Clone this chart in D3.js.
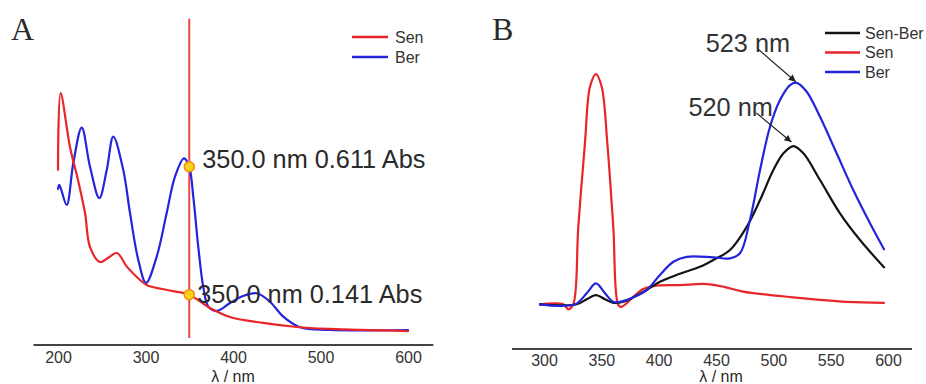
<!DOCTYPE html>
<html lang="en">
<head>
<meta charset="UTF-8">
<title>Sen / Ber spectra</title>
<script src="https://d3js.org/d3.v7.min.js"></script>
<style>
    body { margin: 0; background: #fff; }
    svg text { font-family: "Liberation Sans", Arial, sans-serif; fill: #2a2a2a; }
    .panel-label { font-family: "Liberation Serif", "Times New Roman", serif; font-size: 32px; }
    .axis text { font-size: 16px; fill: #333; }
    .legend text { font-size: 16px; fill: #333; }
    .note { font-size: 25.3px; }
    .curve { fill: none; stroke-width: 2.2; stroke-linejoin: round; stroke-linecap: round; }
</style>
</head>
<body>
<script>
    // ---- Panel A: absorbance (Abs) vs wavelength ----
    const senA_nm  = [200, 203, 213.7, 222.9, 230.9, 236.6, 248, 257, 267.4, 278.9, 293.7, 301.7, 331.4, 350, 373.7, 396.6, 434.3, 473, 510.9, 600];
    const senA_abs = [0.60, 0.882, 0.684, 0.562, 0.441, 0.316, 0.261, 0.276, 0.294, 0.243, 0.195, 0.176, 0.154, 0.141, 0.092, 0.059, 0.037, 0.022, 0.015, 0.007];

    const berA_nm  = [200, 201.5, 209.9, 217.5, 227.1, 236.6, 247.2, 255.7, 263.2, 274.6, 282.3, 291.8, 300.6, 312.8, 324.2, 333.7, 344, 350, 354.6, 360.3, 366, 371.8, 381.4, 396.6, 411.4, 427.1, 442.3, 457.5, 476.6, 510.9, 600];
    const berA_abs = [0.53, 0.545, 0.471, 0.625, 0.755, 0.611, 0.496, 0.599, 0.722, 0.599, 0.441, 0.268, 0.184, 0.281, 0.441, 0.575, 0.642, 0.611, 0.501, 0.317, 0.170, 0.097, 0.081, 0.110, 0.136, 0.146, 0.115, 0.060, 0.021, 0.011, 0.011];

    const cursorA_nm  = 350.0;
    const cursorA_abs = [0.611, 0.141];
    const ticksA = [200, 300, 400, 500, 600];

    // ---- Panel B: fluorescence intensity (a.u.) vs wavelength ----
    const mixB_nm  = [300, 332, 340.7, 348.8, 356.7, 363.9, 372.6, 381.4, 393, 404.6, 422, 439.5, 451.1, 465.7, 480.3, 491.9, 503.5, 512.3, 521, 529.7, 544.2, 561.6, 579.1, 600];
    const mixB_int = [0, 0, 20, 37, 20, 6, 10, 28, 57, 90, 122, 150, 177, 217, 310, 417, 537, 604, 633, 604, 497, 364, 257, 148];

    const senB_nm  = [300, 320.3, 324.7, 329, 333.4, 339.2, 343.6, 348.8, 353.8, 358.7, 363.9, 368.3, 371.2, 381.4, 389.5, 398.5, 422, 445.6, 461.3, 477, 520.6, 567.7, 600];
    const senB_int = [0, 0, -20, 0, 310, 645, 870, 921, 870, 645, 310, -3, -10, 30, 60, 73, 77, 81, 69, 51, 28, 10, 6];

    const berB_nm  = [300, 330.5, 340.7, 348.8, 356.7, 363.9, 369.8, 381.4, 393, 404.6, 416.3, 427.9, 451.1, 465.7, 474.4, 483.1, 491.9, 500.6, 509.3, 518.1, 523.9, 532.6, 544.2, 558.7, 573.2, 587.8, 600];
    const berB_int = [0, 0, 44, 84, 44, 10, 10, 28, 57, 117, 170, 190, 188, 184, 204, 337, 537, 710, 817, 877, 886, 850, 750, 604, 457, 324, 220];

    const peakLabelsB = ["523 nm", "520 nm"];
    const ticksB = [300, 350, 400, 450, 500, 550, 600];

    const width = 926, height = 384;
    const svg = d3.select("body").append("svg")
        .attr("width", width)
        .attr("height", height);

    const defs = svg.append("defs");
    defs.append("marker")
        .attr("id", "arrow")
        .attr("viewBox", "0 0 10 10")
        .attr("refX", 10).attr("refY", 5)
        .attr("markerWidth", 9).attr("markerHeight", 7)
        .attr("markerUnits", "userSpaceOnUse")
        .attr("orient", "auto")
        .append("path")
        .attr("d", "M0,0 L10,5 L0,10 Z")
        .attr("fill", "#222");

    const RED = "#e8262a", BLUE = "#2424dc", BLACK = "#141414";

    const pairs = (xs, ys) => xs.map((v, i) => [v, ys[i]]);
    const smooth = d3.curveCatmullRom.alpha(0.5);

    // ================= Panel A =================
    const xA = d3.scaleLinear().domain([200, 600]).range([58, 408]);
    const yA = d3.scaleLinear().domain([0, 1]).range([333, 61]);
    const axisExtentA = [172, 629];

    const gA = svg.append("g");

    gA.append("text").attr("class", "panel-label")
        .attr("x", 11).attr("y", 40).text("A");

    // x axis
    const axA = gA.append("g")
        .attr("class", "axis")
        .attr("transform", "translate(0,345)")
        .call(d3.axisBottom(xA).tickValues(ticksA).tickSize(0).tickPadding(7));
    axA.select(".domain").remove();
    axA.append("line")
        .attr("x1", xA(axisExtentA[0])).attr("x2", xA(axisExtentA[1]))
        .attr("stroke", "#444").attr("stroke-width", 2);
    gA.append("text")
        .attr("x", xA(400)).attr("y", 382)
        .attr("text-anchor", "middle")
        .style("font-size", "16px")
        .text("λ / nm");

    const lineA = d3.line()
        .x(d => xA(d[0])).y(d => yA(d[1]))
        .curve(smooth);

    // cursor line at 350 nm
    gA.append("line")
        .attr("x1", xA(cursorA_nm)).attr("x2", xA(cursorA_nm))
        .attr("y1", yA(1.155)).attr("y2", yA(-0.018))
        .attr("stroke", "#ea4848").attr("stroke-width", 2);

    gA.append("path").attr("class", "curve")
        .attr("d", lineA(pairs(berA_nm, berA_abs)))
        .attr("stroke", BLUE);
    gA.append("path").attr("class", "curve")
        .attr("d", lineA(pairs(senA_nm, senA_abs)))
        .attr("stroke", RED);

    gA.selectAll(".cursor-dot")
        .data(cursorA_abs)
        .enter().append("circle")
        .attr("cx", xA(cursorA_nm))
        .attr("cy", d => yA(d))
        .attr("r", 5)
        .attr("fill", "#ffd21a")
        .attr("stroke", "#f08a10")
        .attr("stroke-width", 1.5);

    const noteOffA = [[13, 1], [8, 8]];
    gA.selectAll(".noteA")
        .data(cursorA_abs)
        .enter().append("text")
        .attr("class", "note")
        .attr("x", (d, i) => xA(cursorA_nm) + noteOffA[i][0])
        .attr("y", (d, i) => yA(d) + noteOffA[i][1])
        .text(d => `${cursorA_nm.toFixed(1)} nm ${d.toFixed(3)} Abs`);

    // legend A
    const legA = gA.append("g").attr("class", "legend").attr("transform", "translate(352,37)");
    [["Sen", RED], ["Ber", BLUE]].forEach(([name, c], i) => {
        legA.append("line")
            .attr("x1", 0).attr("x2", 36)
            .attr("y1", i * 20).attr("y2", i * 20)
            .attr("stroke", c).attr("stroke-width", 2.5);
        legA.append("text")
            .attr("x", 43).attr("y", i * 20).attr("dy", "0.35em")
            .text(name);
    });

    // ================= Panel B =================
    const xB = d3.scaleLinear().domain([300, 600]).range([540, 884]);
    const yB = d3.scaleLinear().domain([0, 1000]).range([304.3, 54.3]);
    const axisExtentB = [275.6, 624.4];

    const gB = svg.append("g");

    gB.append("text").attr("class", "panel-label")
        .attr("x", 492).attr("y", 40).text("B");

    const axB = gB.append("g")
        .attr("class", "axis")
        .attr("transform", "translate(0,349)");
    const axBTicks = axB.append("g")
        .attr("transform", "translate(4,0)")
        .call(d3.axisBottom(xB).tickValues(ticksB).tickSize(0).tickPadding(6));
    axBTicks.select(".domain").remove();
    axB.append("line")
        .attr("x1", xB(axisExtentB[0])).attr("x2", xB(axisExtentB[1]))
        .attr("stroke", "#444").attr("stroke-width", 2);
    gB.append("text")
        .attr("x", xB(450) + 9).attr("y", 382)
        .attr("text-anchor", "middle")
        .style("font-size", "16px")
        .text("λ / nm");

    const lineB = d3.line()
        .x(d => xB(d[0])).y(d => yB(d[1]))
        .curve(smooth);

    gB.append("path").attr("class", "curve")
        .attr("d", lineB(pairs(senB_nm, senB_int)))
        .attr("stroke", RED);
    gB.append("path").attr("class", "curve")
        .attr("d", lineB(pairs(mixB_nm, mixB_int)))
        .attr("stroke", BLACK);
    gB.append("path").attr("class", "curve")
        .attr("d", lineB(pairs(berB_nm, berB_int)))
        .attr("stroke", BLUE);

    // peak annotations with arrows
    const peaks = [
        { label: peakLabelsB[0], nm: 523.9, val: d3.max(berB_int), text: [-91, -31], from: [-39, -34], to: [-1, -1] },
        { label: peakLabelsB[1], nm: 521, val: d3.max(mixB_int), text: [-105, -30], from: [-37, -33], to: [-2, -4] }
    ];
    peaks.forEach(p => {
        const px = xB(p.nm), py = yB(p.val);
        gB.append("line")
            .attr("x1", px + p.from[0]).attr("y1", py + p.from[1])
            .attr("x2", px + p.to[0]).attr("y2", py + p.to[1])
            .attr("stroke", "#222").attr("stroke-width", 1.2)
            .attr("marker-end", "url(#arrow)");
        gB.append("text")
            .attr("class", "note")
            .attr("x", px + p.text[0]).attr("y", py + p.text[1])
            .style("fill", "#333")
            .text(p.label);
    });

    // legend B
    const legB = gB.append("g").attr("class", "legend").attr("transform", "translate(825,33)");
    [["Sen-Ber", BLACK], ["Sen", RED], ["Ber", BLUE]].forEach(([name, c], i) => {
        legB.append("line")
            .attr("x1", 0).attr("x2", 35)
            .attr("y1", i * 19.5).attr("y2", i * 19.5)
            .attr("stroke", c).attr("stroke-width", 2.5);
        legB.append("text")
            .attr("x", 40).attr("y", i * 19.5).attr("dy", "0.35em")
            .text(name);
    });
</script>
</body>
</html>
